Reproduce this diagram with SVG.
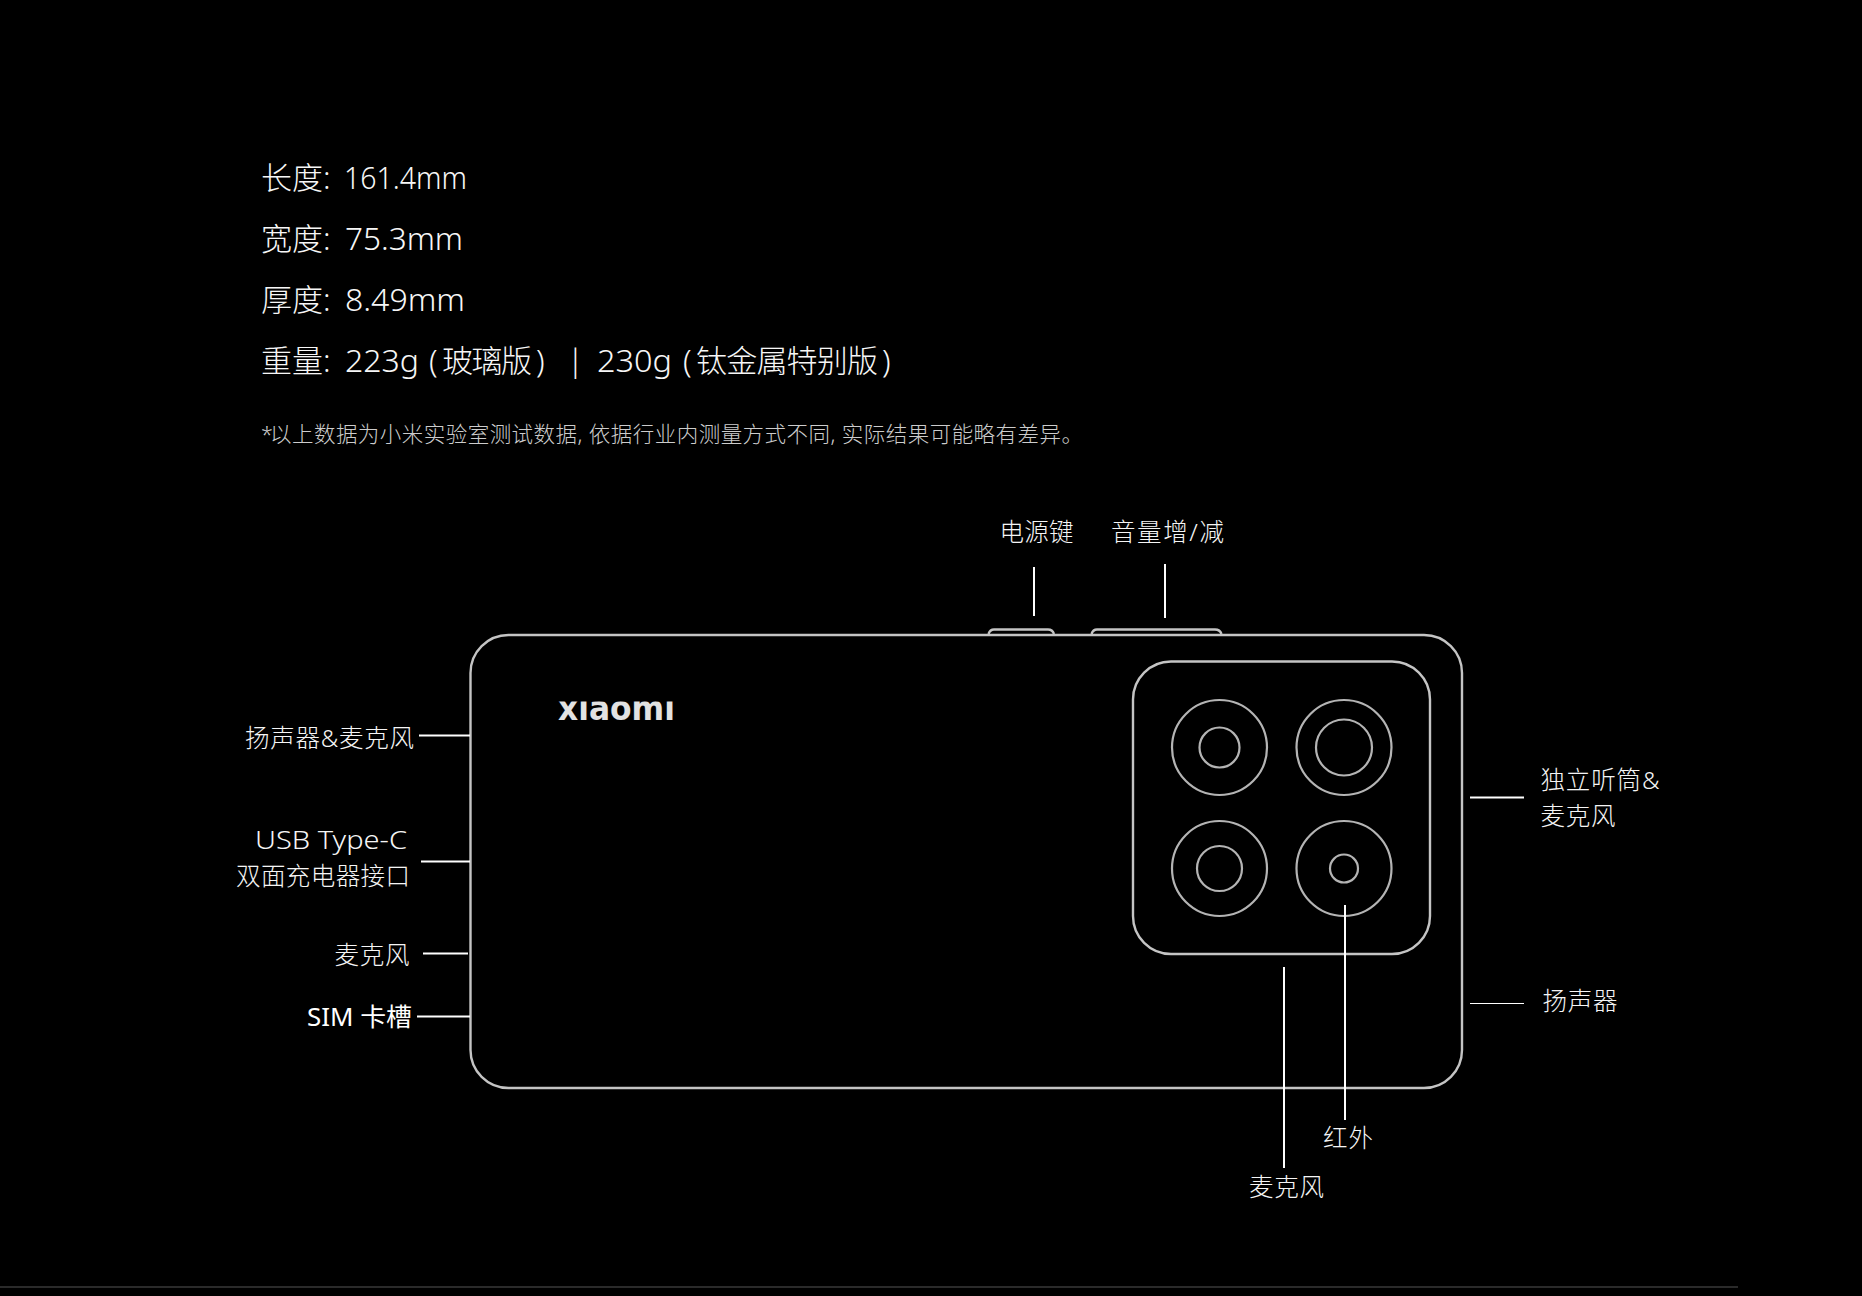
<svg xmlns="http://www.w3.org/2000/svg" width="1862" height="1296" viewBox="0 0 1862 1296">
<defs>
<style>
text{font-family:"Noto Sans","Noto Sans CJK SC",sans-serif;font-weight:300;fill:#f2f2f2}
.spec{font-size:31px;fill:#f7f7f7}
.note{font-size:21.5px;fill:#cccccc}
.lab{font-size:24.5px;fill:#f5f5f5}
.sim{fill:#ffffff;font-weight:400}
.logo{font-family:"DejaVu Sans",sans-serif;font-weight:700;font-size:33px;fill:#e2e2e2}
.out{fill:none;stroke:#c4c4c4;stroke-width:2.4}
.ring{fill:none;stroke:#b4b4b4;stroke-width:2.2}
.con{fill:none;stroke:#ffffff;stroke-width:2}
.thin{stroke-width:1.2}
</style>
<clipPath id="logoClip"><rect x="550" y="701.5" width="135" height="24"/></clipPath>
</defs>
<rect width="1862" height="1296" fill="#000000"/>
<g id="specs">
<text class="spec" y="189"><tspan x="261">长度:</tspan><tspan x="344" textLength="123" lengthAdjust="spacingAndGlyphs">161.4mm</tspan></text>
<text class="spec" y="250"><tspan x="261">宽度:</tspan><tspan x="345" textLength="118" lengthAdjust="spacingAndGlyphs">75.3mm</tspan></text>
<text class="spec" y="311"><tspan x="261">厚度:</tspan><tspan x="345" textLength="120" lengthAdjust="spacingAndGlyphs">8.49mm</tspan></text>
<text class="spec" y="372"><tspan x="261">重量:</tspan><tspan x="345" textLength="74" lengthAdjust="spacingAndGlyphs">223g</tspan><tspan x="429">(</tspan><tspan x="442" textLength="90">玻璃版</tspan><tspan x="536">)</tspan><tspan x="567">|</tspan><tspan x="597" textLength="75" lengthAdjust="spacingAndGlyphs">230g</tspan><tspan x="683">(</tspan><tspan x="696" textLength="182">钛金属特别版</tspan><tspan x="882">)</tspan></text>
<text class="note" y="442"><tspan x="261">*</tspan><tspan x="270" textLength="813">以上数据为小米实验室测试数据, 依据行业内测量方式不同, 实际结果可能略有差异。</tspan></text>
</g>
<g id="phone">
<path class="out" d="M988.5 634C989.5 631 991 629.5 994 629.5H1048C1051 629.5 1053 631 1054 634"/>
<path class="out" d="M1091.5 634C1092.5 631 1094 629.5 1097 629.5H1215C1218 629.5 1220.5 631 1221.5 634"/>
<rect class="out" x="470.5" y="635" width="991.5" height="453" rx="38" ry="38"/>
<text class="logo" x="558" y="720" textLength="117" lengthAdjust="spacingAndGlyphs" clip-path="url(#logoClip)">xiaomi</text>
</g>
<g id="camera">
<rect class="out" x="1133" y="661.5" width="297" height="292.5" rx="38" ry="38"/>
<circle class="ring" cx="1219.5" cy="747.5" r="47.5"/><circle class="ring" cx="1219.5" cy="747.5" r="20"/>
<circle class="ring" cx="1344" cy="747.5" r="47.5"/><circle class="ring" cx="1344" cy="747.5" r="28"/>
<circle class="ring" cx="1219.5" cy="868.5" r="47.5"/><circle class="ring" cx="1219.5" cy="868.5" r="22.5"/>
<circle class="ring" cx="1344" cy="868.5" r="47.5"/><circle class="ring" cx="1344" cy="868.5" r="14"/>
</g>
<g id="connectors">
<path class="con" d="M1034 567V616"/>
<path class="con" d="M1165 564V618"/>
<path class="con" d="M419 735.5H470"/>
<path class="con" d="M421 861.5H470"/>
<path class="con" d="M423 953.5H468"/>
<path class="con" d="M417 1016.5H470"/>
<path class="con" d="M1470 797.5H1524"/>
<path class="con thin" d="M1470 1003.5H1524"/>
<path class="con" d="M1284 967V1168"/>
<path class="con" d="M1345 905V1120"/>
</g>
<g id="label-power"><text class="lab" x="999.5" y="541" textLength="74">电源键</text></g>
<g id="label-volume"><text class="lab" x="1111" y="541" textLength="113">音量增/减</text></g>
<g id="label-speaker-mic"><text class="lab" x="245" y="747" textLength="169">扬声器&amp;麦克风</text></g>
<g id="label-usb">
<text class="lab" x="255" y="849" textLength="152" lengthAdjust="spacingAndGlyphs" style="font-size:25.5px">USB Type-C</text>
<text class="lab" x="236" y="885" textLength="174">双面充电器接口</text>
</g>
<g id="label-mic-left"><text class="lab" x="334.5" y="964" textLength="75">麦克风</text></g>
<g id="label-sim"><text class="lab sim" x="307" y="1026" textLength="105" lengthAdjust="spacingAndGlyphs">SIM 卡槽</text></g>
<g id="label-earpiece">
<text class="lab" x="1540.5" y="789" textLength="119">独立听筒&amp;</text>
<text class="lab" x="1540.5" y="825" textLength="75">麦克风</text>
</g>
<g id="label-speaker"><text class="lab" x="1542.5" y="1010" textLength="75">扬声器</text></g>
<g id="label-ir"><text class="lab" x="1323" y="1147" textLength="50">红外</text></g>
<g id="label-mic-bottom"><text class="lab" x="1249" y="1196" textLength="75">麦克风</text></g>
<rect id="footer-rule" x="0" y="1286" width="1738" height="2" fill="#2a2a2a"/>
</svg>
